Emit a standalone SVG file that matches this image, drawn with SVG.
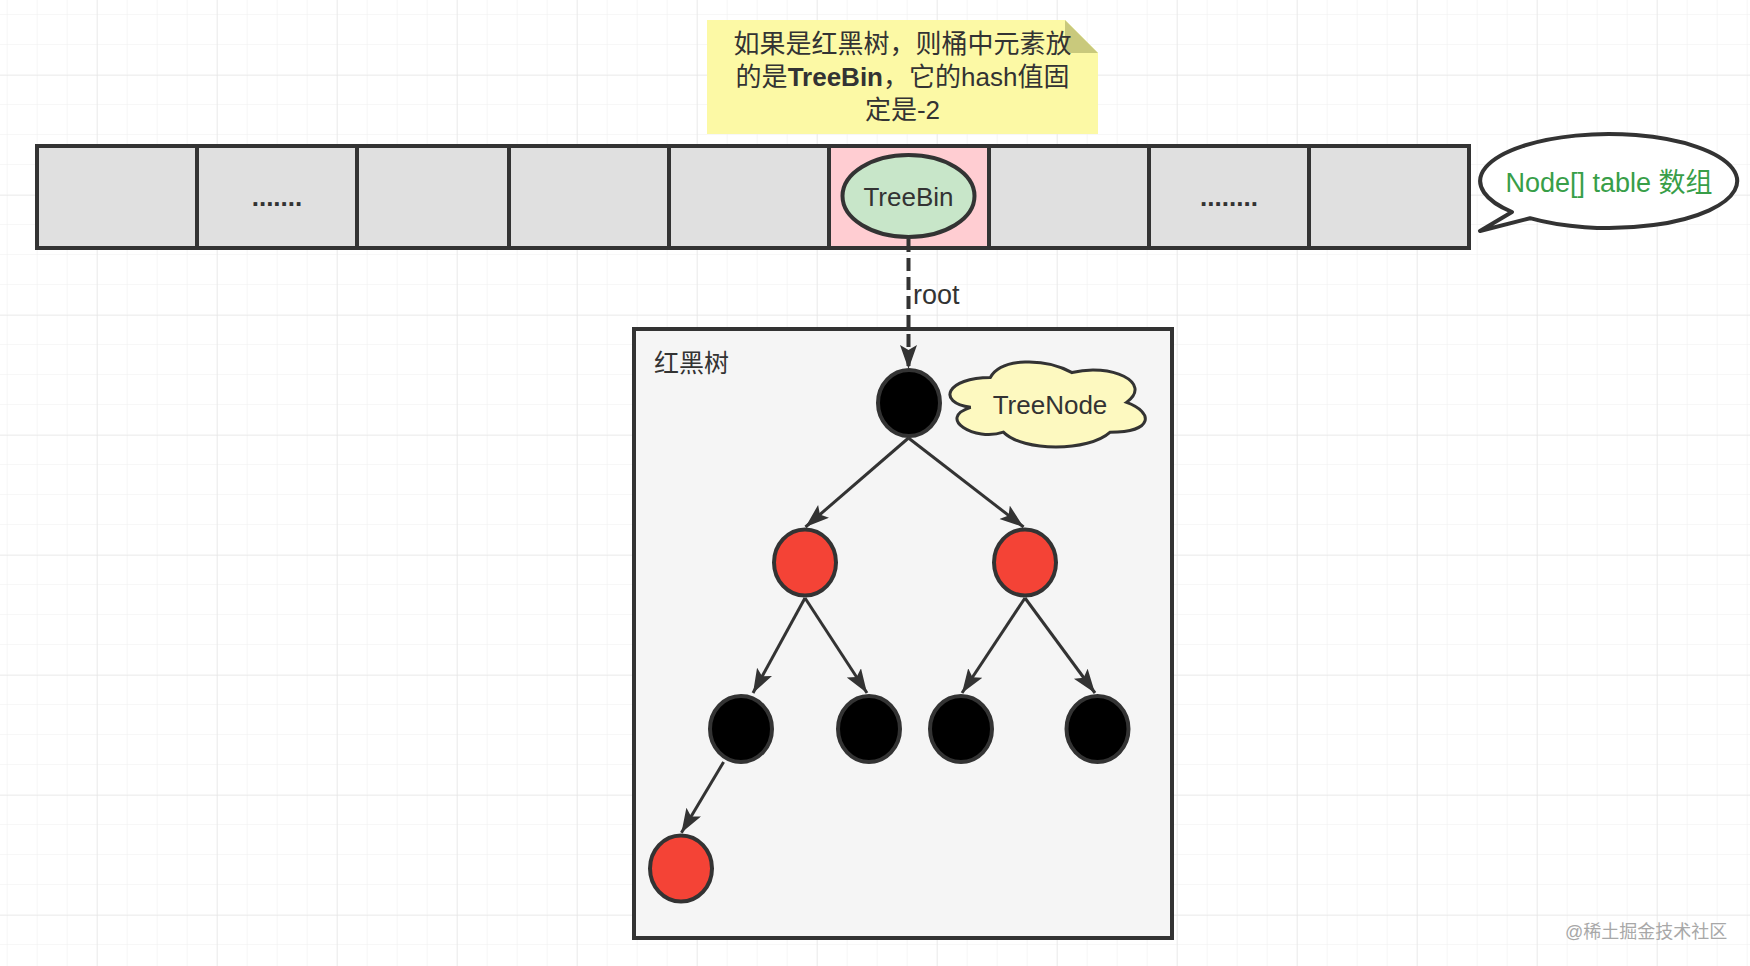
<svg xmlns="http://www.w3.org/2000/svg" width="1750" height="966" viewBox="0 0 1750 966">
<style>
.t{font-family:"Liberation Sans","Noto Sans CJK SC",sans-serif;font-size:26px;fill:#333333}
.cell{fill:#e0e0e0;stroke:#333333;stroke-width:4}
.node{stroke:#333333;stroke-width:4}
.blk{fill:#000000}
.red{fill:#f44336}
.edge{fill:none;stroke:#333333;stroke-width:3}
</style>
<defs>
<pattern id="gMinor" patternUnits="userSpaceOnUse" x="6.7" y="14" width="30" height="30">
<path d="M0 0 H30 M0 0 V30" stroke="#f0f0f0" stroke-width="1.2" fill="none"/>
</pattern>
<pattern id="gMajor" patternUnits="userSpaceOnUse" x="96.7" y="75" width="120" height="120">
<path d="M0 0 H120 M0 0 V120" stroke="#e4e4e4" stroke-width="1.2" fill="none"/>
</pattern>
<marker id="arr" markerUnits="userSpaceOnUse" markerWidth="26" markerHeight="19" refX="24" refY="8.5" orient="auto">
<path d="M0 0 L24 8.5 L0 17 L5 8.5 Z" fill="#333333"/>
</marker>
</defs>
<rect width="1750" height="966" fill="#ffffff"/>
<rect width="1750" height="966" fill="url(#gMinor)"/>
<rect width="1750" height="966" fill="url(#gMajor)"/>

<g id="note">
<path d="M707 20 H1065 L1098 53 V134 H707 Z" fill="#fcf9a5"/>
<path d="M1065 20 L1098 53 H1065 Z" fill="#c9c97c"/>
<text class="t" text-anchor="middle" x="902.5" y="53">如果是红黑树，则桶中元素放</text>
<text class="t" text-anchor="middle" x="902.5" y="86">的是<tspan font-weight="bold">TreeBin</tspan>，它的hash值固</text>
<text class="t" text-anchor="middle" x="902.5" y="119">定是-2</text>
</g>

<g id="table">
<rect class="cell" x="37" y="146" width="160" height="102"/>
<rect class="cell" x="197" y="146" width="160" height="102"/>
<rect class="cell" x="357" y="146" width="152" height="102"/>
<rect class="cell" x="509" y="146" width="160" height="102"/>
<rect class="cell" x="669" y="146" width="160" height="102"/>
<rect class="cell" x="829" y="146" width="160" height="102" style="fill:#ffcdd2"/>
<rect class="cell" x="989" y="146" width="160" height="102"/>
<rect class="cell" x="1149" y="146" width="160" height="102"/>
<rect class="cell" x="1309" y="146" width="160" height="102"/>
<text class="t" text-anchor="middle" x="277" y="206" font-weight="bold">.......</text>
<text class="t" text-anchor="middle" x="1229" y="206" font-weight="bold">........</text>
</g>

<g id="treebin">
<ellipse cx="908.5" cy="196" rx="66" ry="41" fill="#c8e6c9" stroke="#333333" stroke-width="4"/>
<text class="t" text-anchor="middle" x="908.5" y="205.5">TreeBin</text>
</g>

<g id="callout">
<path d="M1530 218.2 A128.5 47 0 1 0 1512 212 L1480 231 Z" fill="#ffffff" stroke="#333333" stroke-width="4" stroke-linejoin="round"/>
<text class="t" text-anchor="middle" x="1609" y="192" style="fill:#389e48;font-size:27px">Node[] table 数组</text>
</g>

<g id="rbtree">
<rect x="634" y="329" width="538" height="609" fill="#f5f5f5" stroke="#333333" stroke-width="4"/>
<text class="t" x="654" y="372" style="font-size:25px">红黑树</text>
</g>

<g id="treenode-label">
<path d="M25 25 C5 25 0 50 16 55 C0 66 18 90 31 80 C40 100 70 100 80 80 C100 80 100 60 87.5 50 C100 30 80 10 62.5 20 C50 5 30 5 25 25 Z" transform="translate(935.8 352.7) scale(2.18 0.993)" fill="#fdf9c0" stroke="#333333" stroke-width="3" vector-effect="non-scaling-stroke"/>
<text class="t" text-anchor="middle" x="1050" y="413.5">TreeNode</text>
</g>

<g id="connectors">
<line x1="908.5" y1="239" x2="908.5" y2="369" stroke="#333333" stroke-width="4" stroke-dasharray="13 6" marker-end="url(#arr)"/>
<text class="t" x="913" y="304" style="font-size:27px">root</text>
<line class="edge" x1="908.5" y1="438" x2="805.5" y2="527" marker-end="url(#arr)"/>
<line class="edge" x1="908.5" y1="438" x2="1023.6" y2="527" marker-end="url(#arr)"/>
<line class="edge" x1="805" y1="598" x2="753" y2="693" marker-end="url(#arr)"/>
<line class="edge" x1="805" y1="598" x2="867" y2="693" marker-end="url(#arr)"/>
<line class="edge" x1="1025" y1="598" x2="962" y2="693" marker-end="url(#arr)"/>
<line class="edge" x1="1025" y1="598" x2="1095" y2="693" marker-end="url(#arr)"/>
<line class="edge" x1="723.6" y1="762" x2="681.4" y2="832.7" marker-end="url(#arr)"/>
</g>

<g id="n-root"><ellipse class="node blk" cx="909" cy="403" rx="31" ry="33"/></g>
<g id="n-l"><ellipse class="node red" cx="805" cy="562.5" rx="31" ry="33"/></g>
<g id="n-r"><ellipse class="node red" cx="1025" cy="562.5" rx="31" ry="33"/></g>
<g id="n-ll"><ellipse class="node blk" cx="741" cy="729" rx="31" ry="33"/></g>
<g id="n-lr"><ellipse class="node blk" cx="869" cy="729" rx="31" ry="33"/></g>
<g id="n-rl"><ellipse class="node blk" cx="961" cy="729" rx="31" ry="33"/></g>
<g id="n-rr"><ellipse class="node blk" cx="1097.5" cy="729" rx="31" ry="33"/></g>
<g id="n-lll"><ellipse class="node red" cx="681" cy="868.5" rx="31" ry="33"/></g>

<g id="watermark">
<text x="1565" y="938" style="font-family:'Liberation Sans','Noto Sans CJK SC',sans-serif;font-size:18px;fill:#a8a8a8">@稀土掘金技术社区</text>
</g>
</svg>
